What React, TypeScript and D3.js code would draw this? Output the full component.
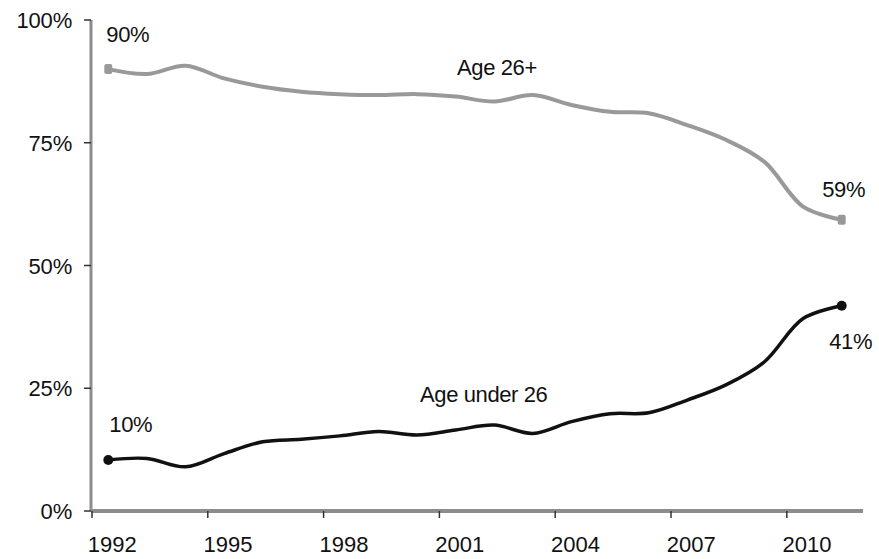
import React, { useEffect, useRef } from 'react';
import * as d3 from 'd3';

const years = [1992, 1993, 1994, 1995, 1996, 1997, 1998, 1999, 2000, 2001, 2002, 2003, 2004, 2005, 2006, 2007, 2008, 2009, 2010, 2011];
const age26plus = [90, 89, 90.7, 88.1, 86.4, 85.4, 84.9, 84.7, 84.9, 84.4, 83.4, 84.7, 82.7, 81.3, 81, 78.6, 75.6, 71.1, 62, 59.3];
const ageUnder26 = [10.4, 10.7, 9, 11.7, 14.1, 14.6, 15.3, 16.2, 15.5, 16.5, 17.5, 15.8, 18.2, 19.8, 20, 22.6, 25.7, 30.4, 39.2, 41.8];
const yTicks = [0, 25, 50, 75, 100];
const xLabelYears = [1992, 1995, 1998, 2001, 2004, 2007, 2010];

function App() {
  const ref = useRef<SVGSVGElement | null>(null);

  useEffect(() => {
    const width = 879;
    const height = 559;
    const left = 91;
    const right = 863;
    const top = 20;
    const bottom = 511;
    const font = "'Liberation Sans', Arial, sans-serif";

    const svg = d3.select(ref.current);
    svg.selectAll('*').remove();
    svg.attr('width', width).attr('height', height);

    const x = d3.scaleBand<number>().domain(years).range([left, right]);
    const y = d3.scaleLinear().domain([0, 100]).range([bottom, top]);
    const cx = (yr: number) => (x(yr) as number) + x.bandwidth() / 2 - 2;

    // axes
    svg.append('line')
      .attr('x1', left).attr('x2', left)
      .attr('y1', y(100)).attr('y2', bottom)
      .attr('stroke', '#8c8c8c').attr('stroke-width', 3);

    svg.selectAll('.ytick')
      .data(yTicks)
      .enter()
      .append('line')
      .attr('x1', left - 7).attr('x2', left)
      .attr('y1', (d) => y(d)).attr('y2', (d) => y(d))
      .attr('stroke', '#333').attr('stroke-width', 1.5);

    svg.selectAll('.ylab')
      .data(yTicks)
      .enter()
      .append('text')
      .attr('x', 72)
      .attr('y', (d) => y(d) + 8)
      .attr('text-anchor', 'end')
      .attr('font-family', font)
      .attr('font-size', 22)
      .attr('letter-spacing', -0.2)
      .attr('fill', '#111')
      .text((d) => `${d}%`);

    svg.append('line')
      .attr('x1', left).attr('x2', right)
      .attr('y1', bottom).attr('y2', bottom)
      .attr('stroke', '#8c8c8c').attr('stroke-width', 4);

    svg.selectAll('.xtick')
      .data(xLabelYears)
      .enter()
      .append('line')
      .attr('x1', (d) => (x(d) as number) + 1).attr('x2', (d) => (x(d) as number) + 1)
      .attr('y1', bottom).attr('y2', bottom + 7)
      .attr('stroke', '#333').attr('stroke-width', 1.5);

    svg.selectAll('.xlab')
      .data(xLabelYears)
      .enter()
      .append('text')
      .attr('x', (d) => cx(d) + 4)
      .attr('y', 552)
      .attr('text-anchor', 'middle')
      .attr('font-family', font)
      .attr('font-size', 22)
      .attr('fill', '#111')
      .text((d) => d);

    // lines
    const line = d3.line<number>()
      .x((d, i) => cx(years[i]))
      .y((d) => y(d))
      .curve(d3.curveCatmullRom);

    svg.append('path')
      .datum(age26plus)
      .attr('fill', 'none')
      .attr('stroke', '#999')
      .attr('stroke-width', 4)
      .attr('d', line);

    svg.append('path')
      .datum(ageUnder26)
      .attr('fill', 'none')
      .attr('stroke', '#111')
      .attr('stroke-width', 3.5)
      .attr('d', line);

    const first = years[0];
    const last = years[years.length - 1];

    // end markers
    [first, last].forEach((yr) => {
      const i = years.indexOf(yr);
      svg.append('rect')
        .attr('x', cx(yr) - 4).attr('y', y(age26plus[i]) - 5)
        .attr('width', 8).attr('height', 10)
        .attr('rx', 2)
        .attr('fill', '#999');
      svg.append('circle')
        .attr('cx', cx(yr)).attr('cy', y(ageUnder26[i]))
        .attr('r', 5)
        .attr('fill', '#111');
    });

    const label = (tx: number, ty: number, txt: string, anchor = 'start') =>
      svg.append('text')
        .attr('x', tx).attr('y', ty)
        .attr('text-anchor', anchor)
        .attr('font-family', font)
        .attr('font-size', 22)
        .attr('letter-spacing', -0.4)
        .attr('fill', '#111')
        .text(txt);

    label(cx(first) - 2, y(age26plus[0]) - 27, '90%');
    label(cx(first) + 1, y(ageUnder26[0]) - 28, '10%');
    label(cx(last) + 2, y(age26plus[19]) - 23, '59%', 'middle');
    label(cx(last) + 9, y(ageUnder26[19]) + 43, '41%', 'middle');
    label(cx(2000) + 40, y(84.9) - 19, 'Age 26+');
    label(cx(2000) + 3, y(15.5) - 33, 'Age under 26');
  }, []);

  return (
    <svg ref={ref} style={{ position: 'absolute', left: 0, top: 0, background: '#fff' }} />
  );
}

export default App;
